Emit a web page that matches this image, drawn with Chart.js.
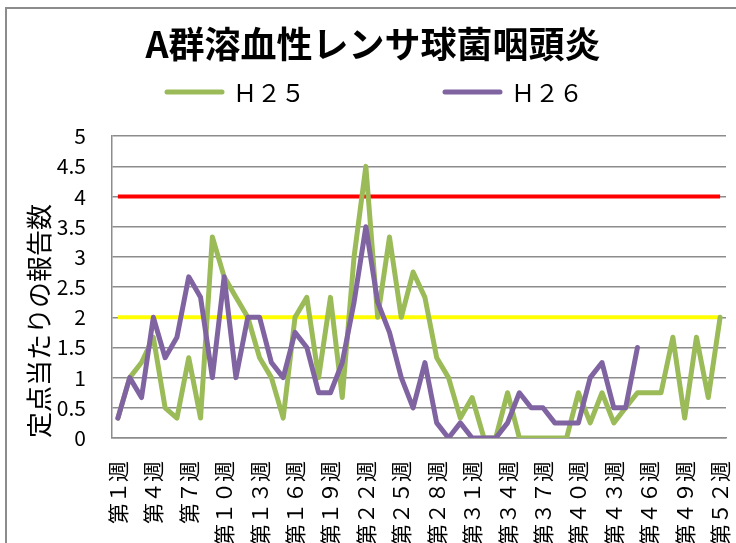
<!DOCTYPE html>
<html>
<head>
<meta charset="utf-8">
<script src="https://cdn.jsdelivr.net/npm/chart.js@4.4.1/dist/chart.umd.min.js"></script>
<style>
  html, body { margin: 0; padding: 0; background: #fff; overflow: hidden; }
  #wrap { position: relative; width: 736px; height: 543px; overflow: hidden; }
  #frame { position: absolute; left: 5px; top: 7px; width: 800px; height: 700px; border: 2px solid #8c8c8c; box-sizing: border-box; }
  #reportChart { position: absolute; left: 0; top: 0; }
</style>
</head>
<body>
<div id="wrap">
  <div id="frame"></div>
  <canvas id="reportChart" width="736" height="560"></canvas>
</div>
<script>
// week labels: 第１週 ... 第５２週 (full-width digits)
const toWide = n => String(n).replace(/[0-9]/g, d => String.fromCharCode(d.charCodeAt(0) + 0xFEE0));
const weeks = Array.from({ length: 52 }, (_, i) => '第' + toWide(i + 1) + '週');

const seriesNames = ['Ｈ２５', 'Ｈ２６'];

// H25
const h25 = [0.33, 1.0, 1.25, 1.67, 0.5, 0.33, 1.33, 0.33, 3.33, 2.67,
             2.33, 2.0, 1.33, 1.0, 0.33, 2.0, 2.33, 1.0, 2.33, 0.67,
             3.0, 4.5, 2.0, 3.33, 2.0, 2.75, 2.33, 1.33, 1.0, 0.33,
             0.67, 0, 0, 0.75, 0, 0, 0, 0, 0, 0.75,
             0.25, 0.75, 0.25, 0.5, 0.75, 0.75, 0.75, 1.67, 0.33, 1.67,
             0.67, 2.0];

// H26 (up to week 45)
const h26 = [0.33, 1.0, 0.67, 2.0, 1.33, 1.67, 2.67, 2.33, 1.0, 2.67,
             1.0, 2.0, 2.0, 1.25, 1.0, 1.75, 1.5, 0.75, 0.75, 1.25,
             2.25, 3.5, 2.25, 1.75, 1.0, 0.5, 1.25, 0.25, 0, 0.25,
             0, 0, 0, 0.25, 0.75, 0.5, 0.5, 0.25, 0.25, 0.25,
             1.0, 1.25, 0.5, 0.5, 1.5, null, null, null, null, null,
             null, null];

const alertLevel = 4;    // 警報レベル
const cautionLevel = 2;  // 注意報レベル

const yTicks = { min: 0, max: 5, step: 0.5 };

const gridColor = '#8c8c8c';
const jpFont = '"Noto Sans CJK JP", "Noto Sans", sans-serif';

// legend drawn by hand so the two entries sit far apart like the original
const spreadLegend = {
  id: 'spreadLegend',
  afterDraw(chart, args, opts) {
    const ctx = chart.ctx;
    ctx.save();
    ctx.font = opts.fontSize + 'px ' + jpFont;
    ctx.textBaseline = 'middle';
    ctx.lineCap = 'round';
    opts.starts.forEach((x, i) => {
      const ds = chart.data.datasets[i];
      ctx.strokeStyle = ds.borderColor;
      ctx.lineWidth = 5;
      ctx.beginPath();
      ctx.moveTo(x, opts.y);
      ctx.lineTo(x + opts.lineLength, opts.y);
      ctx.stroke();
      ctx.fillStyle = '#000';
      ctx.fillText(ds.label, x + opts.lineLength + 11, opts.y + 1);
    });
    ctx.restore();
  }
};

const ctx = document.getElementById('reportChart').getContext('2d');
new Chart(ctx, {
  type: 'line',
  data: {
    labels: weeks,
    datasets: [
      {
        label: seriesNames[0],
        data: h25,
        borderColor: '#9bbb59',
        borderWidth: 5,
        pointRadius: 0,
        borderJoinStyle: 'round',
        borderCapStyle: 'round',
        order: 1,
      },
      {
        label: seriesNames[1],
        data: h26,
        borderColor: '#8064a2',
        borderWidth: 5,
        pointRadius: 0,
        borderJoinStyle: 'round',
        borderCapStyle: 'round',
        order: 0,
      },
      {
        label: 'alert',
        data: weeks.map(() => alertLevel),
        borderColor: '#ff0000',
        borderWidth: 4,
        pointRadius: 0,
        order: 2,
      },
      {
        label: 'caution',
        data: weeks.map(() => cautionLevel),
        borderColor: '#ffff00',
        borderWidth: 4,
        pointRadius: 0,
        order: 2,
      },
    ],
  },
  options: {
    responsive: false,
    animation: false,
    layout: { autoPadding: false, padding: { left: 20, right: 10, top: 0, bottom: 16 } },
    plugins: {
      legend: { display: false },
      tooltip: { enabled: false },
      title: {
        display: true,
        text: 'A群溶血性レンサ球菌咽頭炎',
        color: '#000',
        font: { family: jpFont, size: 36, weight: 'bold' },
        padding: { top: 23, bottom: 70 },
      },
      spreadLegend: { starts: [167, 445], y: 92, lineLength: 55, fontSize: 24 },
    },
    scales: {
      x: {
        offset: true,
        grid: { display: false },
        border: { display: true, color: gridColor, width: 1.5 },
        ticks: {
          autoSkip: false,
          minRotation: 90,
          maxRotation: 90,
          padding: 15,
          color: '#000',
          font: { family: jpFont, size: 21 },
          callback: (v, i) => (i % 3 === 0 ? weeks[i] : ''),
        },
        afterFit: scale => {
          scale.height = 106;
          scale.paddingLeft = 0;
          scale.paddingRight = 0;
        },
      },
      y: {
        min: yTicks.min,
        max: yTicks.max,
        grid: { color: gridColor, lineWidth: 1.5, drawTicks: false },
        border: { display: true, color: gridColor, width: 1.5 },
        ticks: {
          stepSize: yTicks.step,
          autoSkip: false,
          padding: 26,
          color: '#000',
          font: { family: jpFont, size: 21, lineHeight: 1.0 },
          callback: v => String(v),
        },
        title: {
          display: true,
          text: '定点当たりの報告数',
          align: 'start',
          color: '#000',
          font: { family: jpFont, size: 26 },
          padding: 4,
        },
        afterFit: scale => {
          scale.width = 92;
          scale.paddingTop = 0;
          scale.paddingBottom = 0;
        },
      },
    },
  },
  plugins: [spreadLegend],
});
</script>
</body>
</html>
